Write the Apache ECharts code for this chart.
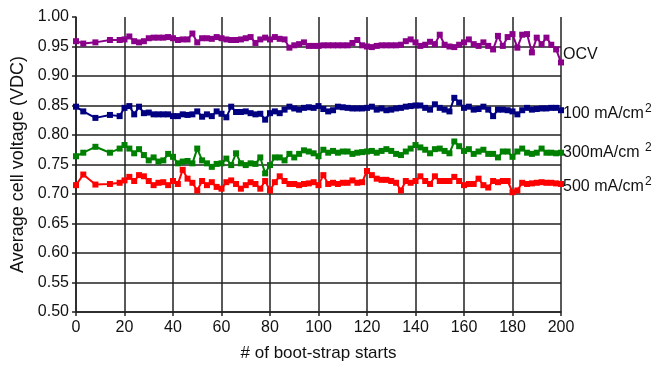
<!DOCTYPE html>
<html>
<head>
<meta charset="utf-8">
<script src="https://cdn.jsdelivr.net/npm/echarts@6/dist/echarts.min.js"></script>
<style>
  html, body { margin: 0; padding: 0; background: #fff; }
  #chart { width: 667px; height: 367px; }
</style>
</head>
<body>
<div id="chart"></div>
<script>
// boot-strap start numbers (shared by all series)
var starts = [0, 3, 8, 14, 18,
  20, 22, 24, 26, 28, 30, 32, 34, 36, 38, 40, 42, 44, 46, 48, 50, 52, 54, 56, 58,
  60, 62, 64, 66, 68, 70, 72, 74, 76, 78, 80, 82, 84, 86, 88, 90, 92, 94, 96, 98,
  100, 102, 104, 106, 108, 110, 112, 114, 116, 118, 120, 122, 124, 126, 128, 130,
  132, 134, 136, 138, 140, 142, 144, 146, 148, 150, 152, 154, 156, 158, 160, 162,
  164, 166, 168, 170, 172, 174, 176, 178, 180, 182, 184, 186, 188, 190, 192, 194,
  196, 198, 200];

var ocv = [0.959, 0.955, 0.957, 0.961, 0.961,
  0.962, 0.967, 0.959, 0.957, 0.959, 0.964, 0.965, 0.965, 0.965, 0.966, 0.964, 0.961, 0.962, 0.962, 0.972, 0.957, 0.964, 0.964, 0.963, 0.966,
  0.964, 0.962, 0.961, 0.961, 0.962, 0.964, 0.966, 0.956, 0.962, 0.965, 0.962, 0.966, 0.963, 0.962, 0.948, 0.952, 0.954, 0.957, 0.951, 0.951,
  0.951, 0.952, 0.952, 0.952, 0.952, 0.952, 0.952, 0.956, 0.961, 0.952, 0.950, 0.949, 0.951, 0.952, 0.952, 0.952,
  0.952, 0.953, 0.959, 0.962, 0.957, 0.951, 0.953, 0.958, 0.954, 0.970, 0.953, 0.950, 0.949, 0.953, 0.957, 0.962,
  0.954, 0.951, 0.957, 0.951, 0.945, 0.968, 0.951, 0.966, 0.971, 0.948, 0.970, 0.971, 0.940, 0.965, 0.954, 0.965,
  0.953, 0.945, 0.923];

var ma100 = [0.848, 0.840, 0.829, 0.834, 0.832,
  0.846, 0.849, 0.835, 0.848, 0.837, 0.838, 0.835, 0.835, 0.835, 0.835, 0.832, 0.832, 0.835, 0.834, 0.835, 0.840, 0.831, 0.835, 0.832, 0.840,
  0.836, 0.830, 0.848, 0.839, 0.839, 0.840, 0.837, 0.835, 0.836, 0.826, 0.837, 0.840, 0.837, 0.843, 0.848, 0.845, 0.843, 0.846, 0.847, 0.846,
  0.849, 0.844, 0.840, 0.842, 0.848, 0.847, 0.846, 0.845, 0.845, 0.845, 0.846, 0.848, 0.843, 0.845, 0.842, 0.843,
  0.845, 0.846, 0.848, 0.849, 0.850, 0.850, 0.846, 0.843, 0.852, 0.846, 0.843, 0.840, 0.863, 0.855, 0.846, 0.848,
  0.843, 0.844, 0.848, 0.843, 0.832, 0.843, 0.843, 0.842, 0.840, 0.835, 0.842, 0.846, 0.843, 0.844, 0.845, 0.845,
  0.846, 0.846, 0.842];

var ma300 = [0.764, 0.770, 0.780, 0.770, 0.777,
  0.783, 0.777, 0.769, 0.776, 0.766, 0.757, 0.762, 0.755, 0.757, 0.768, 0.763, 0.752, 0.755, 0.756, 0.752, 0.777, 0.757, 0.752, 0.746, 0.751,
  0.752, 0.760, 0.749, 0.769, 0.752, 0.749, 0.752, 0.751, 0.762, 0.735, 0.749, 0.762, 0.762, 0.757, 0.768, 0.762, 0.768, 0.774, 0.772, 0.769,
  0.764, 0.775, 0.770, 0.773, 0.770, 0.772, 0.772, 0.768, 0.770, 0.771, 0.772, 0.773, 0.770, 0.773, 0.776, 0.773,
  0.768, 0.766, 0.772, 0.777, 0.783, 0.779, 0.775, 0.769, 0.776, 0.777, 0.773, 0.769, 0.789, 0.781, 0.773, 0.776,
  0.768, 0.772, 0.775, 0.768, 0.768, 0.762, 0.772, 0.772, 0.763, 0.772, 0.777, 0.770, 0.768, 0.770, 0.777, 0.770,
  0.770, 0.769, 0.770];

var ma500 = [0.715, 0.733, 0.716, 0.717, 0.719,
  0.723, 0.729, 0.722, 0.732, 0.730, 0.722, 0.715, 0.719, 0.720, 0.715, 0.722, 0.717, 0.741, 0.726, 0.719, 0.706, 0.722, 0.715, 0.720, 0.712,
  0.709, 0.720, 0.723, 0.717, 0.709, 0.715, 0.720, 0.717, 0.709, 0.722, 0.706, 0.720, 0.730, 0.722, 0.717, 0.717, 0.715, 0.717, 0.718, 0.720,
  0.715, 0.732, 0.717, 0.719, 0.717, 0.719, 0.719, 0.723, 0.719, 0.720, 0.739, 0.732, 0.726, 0.724, 0.724, 0.722,
  0.719, 0.706, 0.722, 0.719, 0.722, 0.730, 0.722, 0.717, 0.730, 0.722, 0.722, 0.722, 0.729, 0.722, 0.715, 0.717,
  0.717, 0.726, 0.715, 0.711, 0.722, 0.720, 0.722, 0.722, 0.703, 0.706, 0.719, 0.717, 0.718, 0.719, 0.720, 0.719,
  0.719, 0.718, 0.717];

var seriesNames = ['OCV', '100 mA/cm', '300mA/cm ', '500 mA/cm'];
var seriesColors = ['#8B008B', '#000080', '#008000', '#FF0000'];
var labelOffsets = [[0, -8], [0, 3], [0, 0], [0, 3]];

var font = 'Liberation Sans, Arial, sans-serif';

function pairs(ys) {
  return starts.map(function (x, i) { return [x, ys[i]]; });
}

var seriesData = [ocv, ma100, ma300, ma500];

var chart = echarts.init(document.getElementById('chart'));

// hide the split line at 1.00 (reference has no top border)
var gridColors = [];
for (var i = 0; i < 10; i++) gridColors.push('#222');
gridColors.push('rgba(0,0,0,0)');

chart.setOption({
  animation: false,
  grid: { left: 76, right: 106, top: 17, bottom: 55 },
  xAxis: {
    type: 'value',
    min: 0, max: 200, interval: 20,
    name: '# of boot-strap starts',
    nameLocation: 'middle',
    nameGap: 33,
    nameTextStyle: { fontFamily: font, fontSize: 17, color: '#111' },
    axisLine: { show: true, lineStyle: { color: '#222', width: 1.5 } },
    axisTick: { show: true, length: 4, lineStyle: { color: '#222', width: 1.5 } },
    axisLabel: { fontFamily: font, fontSize: 16, color: '#111', margin: 8 },
    splitLine: { show: true, lineStyle: { color: '#222', width: 1.5 } }
  },
  yAxis: {
    type: 'value',
    min: 0.5, max: 1.0, interval: 0.05,
    name: 'Average cell voltage (VDC)',
    nameLocation: 'middle',
    nameGap: 45,
    nameTextStyle: { fontFamily: font, fontSize: 18, color: '#111' },
    axisLine: { show: true, lineStyle: { color: '#222', width: 1.5 } },
    axisTick: { show: true, length: 4, lineStyle: { color: '#222', width: 1.5 } },
    axisLabel: {
      fontFamily: font, fontSize: 16, color: '#111', margin: 7,
      formatter: function (v) { return v.toFixed(2); }
    },
    splitLine: { show: true, lineStyle: { color: gridColors, width: 1.5 } }
  },
  series: seriesData.map(function (ys, k) {
    return {
      name: seriesNames[k],
      type: 'line',
      data: pairs(ys),
      symbol: 'rect',
      symbolSize: 6,
      color: seriesColors[k],
      lineStyle: { width: 2, color: seriesColors[k] },
      itemStyle: { color: seriesColors[k] },
      endLabel: {
        show: true,
        distance: 2,
        offset: labelOffsets[k],
        formatter: k === 0 ? '{a|OCV}' : '{a|' + seriesNames[k] + '}{s|2}',
        rich: {
          a: { fontFamily: font, fontSize: 16, color: '#111' },
          s: { fontFamily: font, fontSize: 12, color: '#111', padding: [0, 0, 10, 1] }
        }
      }
    };
  })
});
</script>
</body>
</html>
